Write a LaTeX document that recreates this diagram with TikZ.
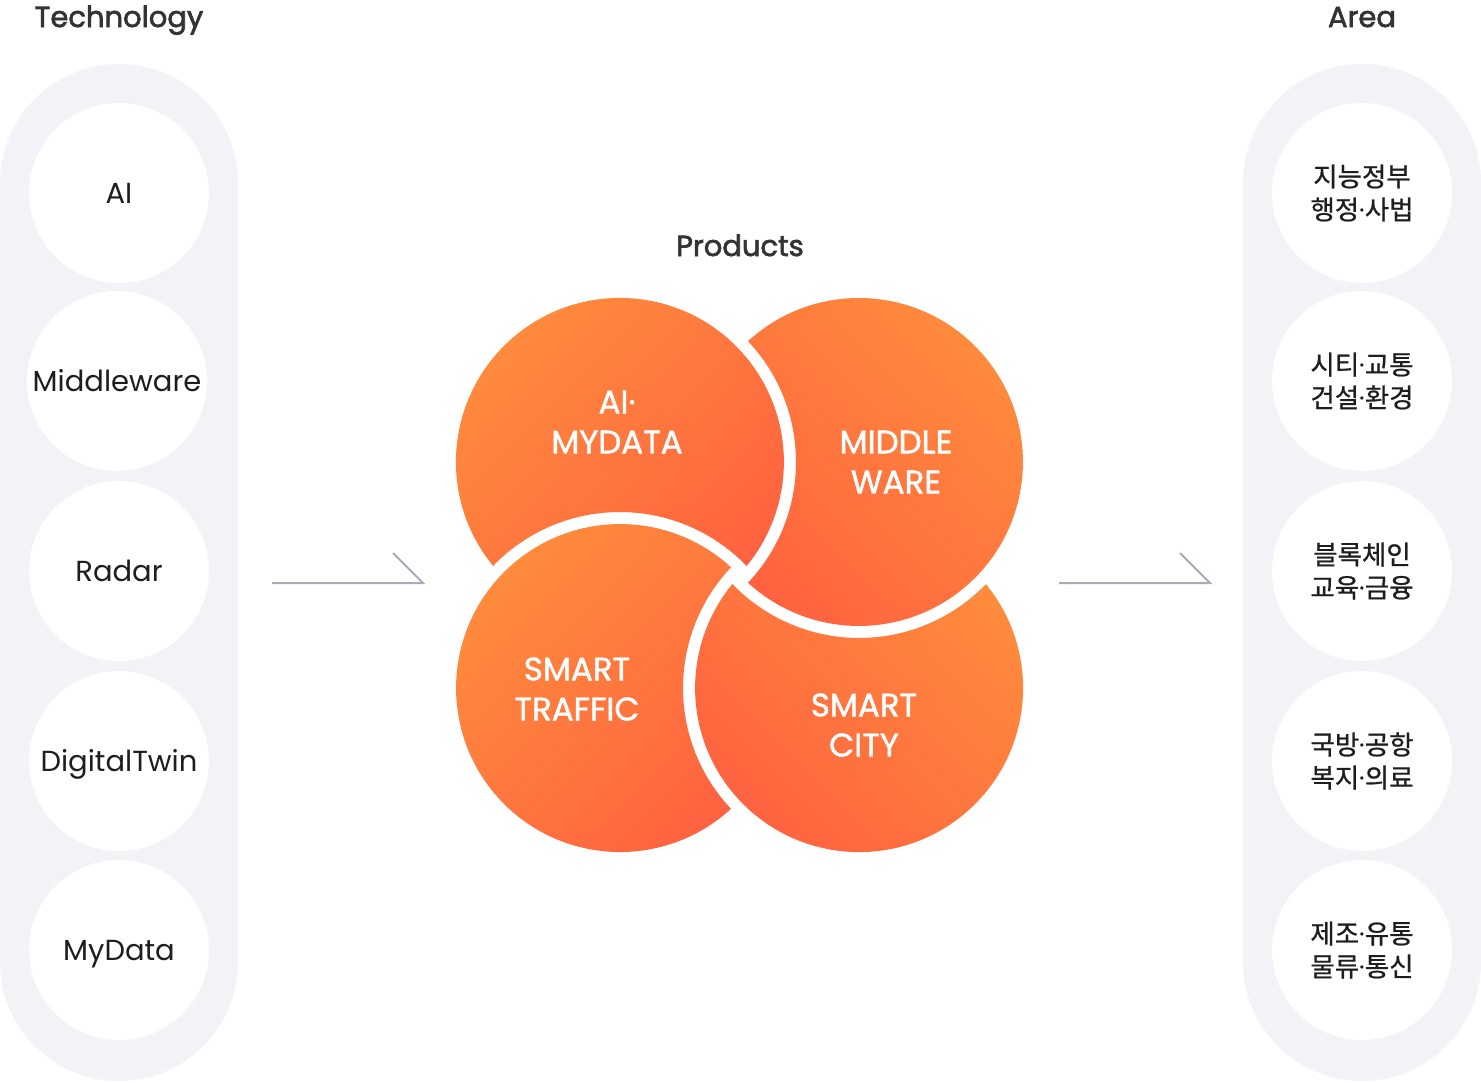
\documentclass[tikz,border=0pt]{standalone}
\usepackage{fontspec}
\setmainfont{Poppins}
\newfontfamily\medfont{Poppins}[FakeBold=1.4]
\newfontfamily\semifont{Poppins}[FakeBold=2.2]
\newfontfamily\krfont{Noto Sans CJK KR}[FakeBold=0.8]
\newcommand\mdot{{\rmfamily·}}

\definecolor{pillgray}{RGB}{242,242,247}
\definecolor{inkgray}{RGB}{30,30,30}
\definecolor{headgray}{RGB}{51,51,51}
\definecolor{flowgray}{RGB}{168,170,186}
\definecolor{petallight}{RGB}{255,141,60}
\definecolor{petaldark}{RGB}{255,97,64}

\tikzset{
  pill/.style={fill=pillgray, rounded corners=119pt},
  slot/.style={circle, fill=white, minimum size=180pt, inner sep=0pt},
  tech/.style={font=\fontsize{29}{32}\selectfont, text=inkgray, text height=20pt, text depth=0pt},
  area/.style={font=\krfont\fontsize{26.5}{33}\selectfont, text=inkgray, align=center},
  heading/.style={font=\semifont\fontsize{29}{32}\selectfont, text=headgray, anchor=base},
  product/.style={font=\medfont\fontsize{32.5}{40}\selectfont, text=white, align=center},
  flow/.style={draw=flowgray, line width=2pt},
  petal/.style={top color=petallight, bottom color=petaldark, shading angle=#1},
}

\begin{document}
\begin{tikzpicture}[x=1pt, y=-1pt]
    \useasboundingbox (0,0) rectangle (1481,1082);

    % side columns
    \fill[pill] (0,64) rectangle (238,1081);
    \fill[pill] (1243,64) rectangle (1481,1081);
    \node (hTech) at (119,27) [heading] {Technology};
    \node (hArea) at (1362,27) [heading] {Area};
    \node (hProd) at (740,256) [heading] {Products};

    \node (tAI) at (119,193) [slot, tech] {AI};
    \node (tMW) at (117,381) [slot, tech] {Middleware};
    \node (tRadar) at (119,571) [slot, tech] {Radar};
    \node (tTwin) at (119,761) [slot, tech] {DigitalTwin};
    \node (tMyData) at (119,950) [slot, tech] {MyData};

    \node (aGov) at (1362,193) [slot, area] {지능정부\\행정\mdot 사법};
    \node (aCity) at (1362,381) [slot, area] {시티\mdot 교통\\건설\mdot 환경};
    \node (aChain) at (1362,571) [slot, area] {블록체인\\교육\mdot 금융};
    \node (aDefense) at (1362,761) [slot, area] {국방\mdot 공항\\복지\mdot 의료};
    \node (aMfg) at (1362,950) [slot, area] {제조\mdot 유통\\물류\mdot 통신};

    % flow marks
    \coordinate (flowL0) at (272,583);
    \coordinate (flowL1) at (423,583);
    \coordinate (flowR0) at (1059,583);
    \coordinate (flowR1) at (1210,583);
    \draw[flow] (flowL0) -- (flowL1) -- ++(-30,-30);
    \draw[flow] (flowR0) -- (flowR1) -- ++(-30,-30);

    % petals: each circle minus the white ring of the petal lying over it
    % (first two points only set the shading box to the full circle)
    \shade[petal=45] (456,298) (784,626)
      (493.2,566) arc[start angle=140.6, end angle=399.4, radius=164]
      arc[start angle=-43.9, end angle=-136.1, radius=176] -- cycle;
    \shade[petal=-45] (695,298) (1023,626)
      (748.0,341.2) arc[start angle=-132.57, end angle=132.57, radius=164]
      arc[start angle=43.33, end angle=-43.33, radius=176] -- cycle;
    \shade[petal=-45] (695,524) (1023,852)
      (985.8,584) arc[start angle=-39.4, end angle=219.4, radius=164]
      arc[start angle=136.1, end angle=43.9, radius=176] -- cycle;
    \shade[petal=45] (456,524) (784,852)
      (731.0,808.8) arc[start angle=47.43, end angle=312.57, radius=164]
      arc[start angle=223.33, end angle=136.67, radius=176] -- cycle;

    \node (pAI) at (617,422) [product] {AI·\\MYDATA};
    \node (pMW) at (896,462) [product] {MIDDLE\\WARE};
    \node (pST) at (577,689) [product] {SMART\\TRAFFIC};
    \node (pSC) at (864,725) [product] {SMART\\CITY};
\end{tikzpicture}
\end{document}
